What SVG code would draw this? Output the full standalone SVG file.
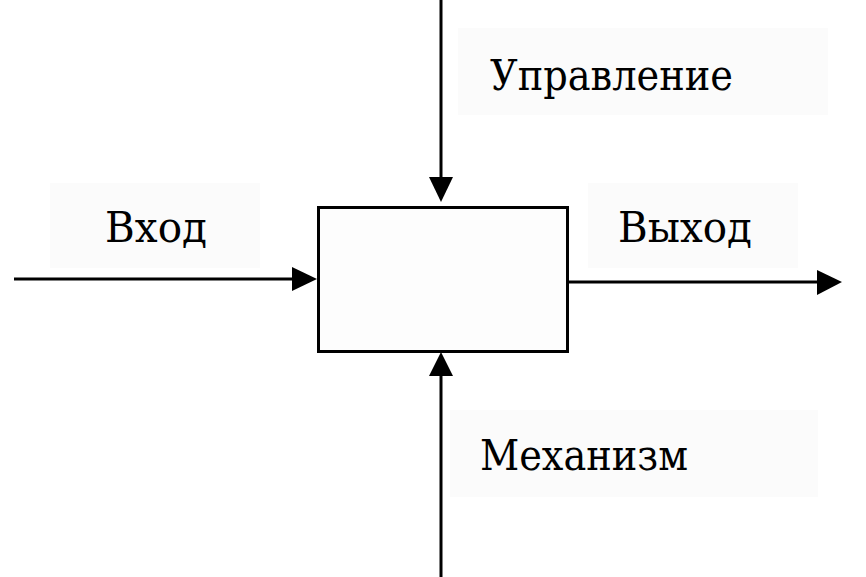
<svg xmlns="http://www.w3.org/2000/svg" width="866" height="577" viewBox="0 0 866 577">
<style>
.lbl{fill:#fbfbfb;stroke:none}
.t{font-family:"DejaVu Serif","Liberation Serif",serif;font-size:42px;fill:#000}
.ln{stroke:#000;stroke-width:3;fill:none}
.ah{fill:#000}
</style>
<rect width="866" height="577" fill="#fff"/>
<g id="label-control"><rect class="lbl" x="458" y="28" width="370" height="87"/><text class="t" x="490" y="90" textLength="243" lengthAdjust="spacingAndGlyphs">Управление</text></g>
<g id="label-input"><rect class="lbl" x="50" y="183" width="210" height="85"/><text class="t" x="105" y="242" textLength="102" lengthAdjust="spacingAndGlyphs">Вход</text></g>
<g id="label-output"><rect class="lbl" x="588" y="183" width="210" height="85"/><text class="t" x="618" y="242" textLength="134" lengthAdjust="spacingAndGlyphs">Выход</text></g>
<g id="label-mechanism"><rect class="lbl" x="450" y="410" width="368" height="87"/><text class="t" x="480" y="470" textLength="208" lengthAdjust="spacingAndGlyphs">Механизм</text></g>
<g id="function"><rect x="318.5" y="207.5" width="249" height="144" fill="#fdfdfd" stroke="#000" stroke-width="3"/></g>
<g id="connectors">
<line class="ln" x1="441" y1="0" x2="441" y2="180"/>
<polygon class="ah" points="429,177 453,177 441,202"/>
<line class="ln" x1="14" y1="279" x2="295" y2="279"/>
<polygon class="ah" points="292,267 292,291 317,279"/>
<line class="ln" x1="568" y1="282" x2="820" y2="282"/>
<polygon class="ah" points="817,270 817,295 842,282"/>
<line class="ln" x1="441" y1="577" x2="441" y2="373"/>
<polygon class="ah" points="429,376 453,376 441,352"/>
</g>
</svg>
